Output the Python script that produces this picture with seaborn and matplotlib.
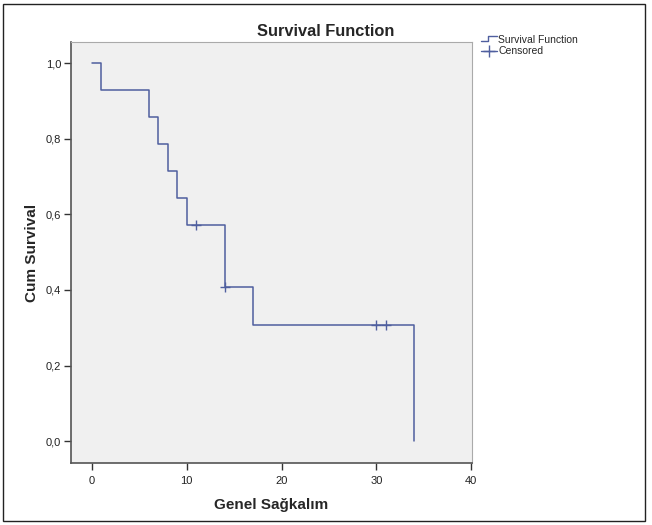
import numpy as np
import pandas as pd
import matplotlib
matplotlib.use('Agg')
import matplotlib.pyplot as plt
import seaborn as sns
from matplotlib.legend_handler import HandlerBase
from matplotlib.lines import Line2D
from matplotlib.patches import Rectangle

# Kaplan-Meier step values
step_times = [0, 1, 6, 7, 8, 9, 10, 14, 17, 34]
step_surv = [1.0, 0.929, 0.857, 0.786, 0.714, 0.643, 0.571, 0.408, 0.306, 0.0]
censor_times = [11, 14, 30, 31]
censor_surv = [0.571, 0.408, 0.306, 0.306]
x_ticks = [0, 10, 20, 30, 40]
y_ticks = [0.0, 0.2, 0.4, 0.6, 0.8, 1.0]
y_labels = ['0,0', '0,2', '0,4', '0,6', '0,8', '1,0']

line_color = '#4f5f9f'


class StepHandler(HandlerBase):
    # little step icon like the SPSS legend
    def create_artists(self, legend, orig_handle, xdescent, ydescent,
                       width, height, fontsize, trans):
        xs = [0, width * 0.45, width * 0.45, width]
        ys = [height * 0.15, height * 0.15, height * 0.85, height * 0.85]
        ln = Line2D(xs, ys, color=line_color, lw=1.0, transform=trans)
        return [ln]


def main():
    sns.set_style('white')
    plt.rcParams['font.family'] = ['Liberation Sans', 'DejaVu Sans']

    surv_df = pd.DataFrame({'time': step_times, 'surv': step_surv})
    cens_df = pd.DataFrame({'time': censor_times, 'surv': censor_surv})

    fig = plt.figure(figsize=(6.52, 5.25), dpi=100)
    ax = fig.add_axes([0.109, 0.118, 0.615, 0.802])
    ax.set_facecolor('#f0f0f0')

    sns.lineplot(data=surv_df, x='time', y='surv', drawstyle='steps-post',
                 color=line_color, lw=1.1, ax=ax, estimator=None, sort=False)
    sns.scatterplot(data=cens_df, x='time', y='surv', marker='+', s=55,
                    color=line_color, linewidth=1.0, ax=ax, zorder=3)

    ax.set_xlim(-2.2, 40.1)
    ax.set_ylim(-0.058, 1.056)
    ax.set_xticks(x_ticks)
    ax.set_yticks(y_ticks)
    ax.set_yticklabels(y_labels)
    ax.tick_params(axis='both', direction='out', length=5, width=1,
                   color='#333333', labelsize=8, labelcolor='#222222', pad=2,
                   bottom=True, left=True)
    ax.tick_params(axis='x', pad=4)

    for side in ['left', 'bottom']:
        ax.spines[side].set_color('#555555')
        ax.spines[side].set_linewidth(1.2)
    for side in ['top', 'right']:
        ax.spines[side].set_color('#aaaaaa')
        ax.spines[side].set_linewidth(0.8)

    ax.set_xlabel('Genel Sağkalım', fontsize=11, fontweight='bold', labelpad=9)
    ax.set_ylabel('Cum Survival', fontsize=11, fontweight='bold', labelpad=5)
    fig.text(0.5, 0.94, 'Survival Function', ha='center', va='center',
             fontsize=11.8, fontweight='bold')

    step_handle = Line2D([], [], color=line_color)
    cens_handle = Line2D([], [], color=line_color, marker='+', markersize=8,
                         lw=1.0)
    fig.legend([step_handle, cens_handle], ['Survival Function', 'Censored'],
               handler_map={step_handle: StepHandler()},
               loc='upper left', bbox_to_anchor=(0.726, 0.948), frameon=False,
               fontsize=7.5, handlelength=1.6, handletextpad=0.1,
               labelspacing=0.15, borderpad=0.2)

    fig.patches.append(Rectangle((0.005, 0.008), 0.985, 0.985,
                                 transform=fig.transFigure, fill=False,
                                 edgecolor='#222222', lw=1.0))

    fig.savefig('out.png', dpi=100)
    plt.close()


if __name__ == "__main__":
    main()
